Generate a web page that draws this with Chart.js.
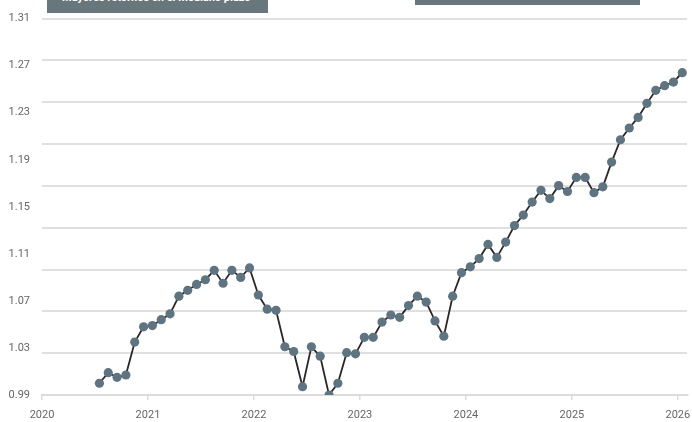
<!DOCTYPE html>
<html lang="es">
  <head>
    <meta charset="UTF-8" />
    <title>Retornos</title>
    <script src="https://cdn.jsdelivr.net/npm/chart.js@4.4.1/dist/chart.umd.min.js"></script>
    <style>
      body { margin: 0; background: #fff; }
      #wrap { position: relative; width: 692px; height: 422px; }
      .tag {
        position: absolute; top: 0; background: #68777c; overflow: hidden;
        color: #fff; font: bold 11px Roboto, sans-serif; white-space: nowrap;
      }
      #tag1 { left: 47px; width: 221px; height: 13px; }
      #tag1 span { position: absolute; left: 15px; top: -9px; }
      #tag2 { left: 415px; width: 225px; height: 5px; }
    </style>
  </head>
  <body>
    <div id="wrap">
      <canvas id="myChart"></canvas>
      <div class="tag" id="tag1"><span>Mayores retornos en el mediano plazo</span></div>
      <div class="tag" id="tag2"></div>
    </div>

    <script>
      // monthly values
      const months = [
        '2020-07','2020-08','2020-09','2020-10','2020-11','2020-12',
        '2021-01','2021-02','2021-03','2021-04','2021-05','2021-06',
        '2021-07','2021-08','2021-09','2021-10','2021-11','2021-12',
        '2022-01','2022-02','2022-03','2022-04','2022-05','2022-06',
        '2022-07','2022-08','2022-09','2022-10','2022-11','2022-12',
        '2023-01','2023-02','2023-03','2023-04','2023-05','2023-06',
        '2023-07','2023-08','2023-09','2023-10','2023-11','2023-12',
        '2024-01','2024-02','2024-03','2024-04','2024-05','2024-06',
        '2024-07','2024-08','2024-09','2024-10','2024-11','2024-12',
        '2025-01','2025-02','2025-03','2025-04','2025-05','2025-06',
        '2025-07','2025-08','2025-09','2025-10','2025-11','2025-12',
        '2026-01'
      ];
      const values = [
        1.000, 1.009, 1.005, 1.007, 1.035, 1.048,
        1.049, 1.054, 1.059, 1.074, 1.079, 1.084,
        1.088, 1.096, 1.085, 1.096, 1.090, 1.098,
        1.075, 1.063, 1.062, 1.031, 1.027, 0.997,
        1.031, 1.023, 0.990, 1.000, 1.026, 1.025,
        1.039, 1.039, 1.052, 1.058, 1.056, 1.066,
        1.074, 1.069, 1.053, 1.040, 1.074, 1.094,
        1.099, 1.106, 1.118, 1.107, 1.120, 1.134,
        1.143, 1.154, 1.164, 1.157, 1.168, 1.163,
        1.175, 1.175, 1.162, 1.167, 1.188, 1.207,
        1.217, 1.226, 1.238, 1.249, 1.253, 1.256,
        1.264
      ];
      const xTicks = [2020, 2021, 2022, 2023, 2024, 2025, 2026];
      const yTicks = [0.99, 1.03, 1.07, 1.11, 1.15, 1.19, 1.23, 1.27, 1.31];

      // month -> fractional year (mid month)
      function toYear(m) {
        const [y, mo] = m.split('-').map(Number);
        return y + (mo - 0.5) / 12;
      }

      const points = months.map((m, i) => ({ x: toYear(m), y: values[i] }));
      const labelFont = { family: 'Roboto', size: 11 };
      const yMin = 0.99, yMax = 1.31;

      const ctx = document.getElementById('myChart').getContext('2d');
      const myChart = new Chart(ctx, {
        type: 'line',
        data: {
          datasets: [
            {
              data: points,
              borderColor: '#2d2628',
              borderWidth: 1.8,
              pointRadius: 4.6,
              pointBackgroundColor: '#5e7480',
              pointBorderWidth: 0,
              tension: 0,
              fill: false,
              yAxisID: 'y'
            }
          ]
        },
        options: {
          responsive: true,
          maintainAspectRatio: false,
          animation: false,
          layout: { padding: { top: 16, right: 1, left: 0, bottom: 0 } },
          plugins: { legend: { display: false }, tooltip: { enabled: false } },
          scales: {
            x: {
              type: 'linear',
              position: 'bottom',
              min: 2020,
              max: 2026.09,
              afterBuildTicks: s => { s.ticks = xTicks.map(v => ({ value: v })); },
              afterFit: s => { s.height = 27; s.paddingLeft = 0; s.paddingRight = 0; },
              ticks: {
                callback: v => String(v),
                font: labelFont,
                color: '#666',
                padding: 9,
                maxRotation: 0,
                autoSkip: false
              },
              grid: { drawOnChartArea: false, tickLength: 5, color: '#dcdcdc', lineWidth: 1.5 },
              border: { color: '#dcdcdc', width: 2 }
            },
            y: {
              position: 'left',
              min: yMin,
              max: yMax,
              afterBuildTicks: s => { s.ticks = yTicks.map(v => ({ value: v })); },
              afterFit: s => { s.width = 42; },
              ticks: {
                callback: v => v.toFixed(2),
                font: labelFont,
                color: '#666',
                padding: 12
              },
              grid: { display: false, drawTicks: false },
              border: { display: false }
            },
            yGrid: {
              position: 'right',
              min: yMin,
              max: yMax,
              afterBuildTicks: s => {
                const t = [];
                for (let i = 0; i <= 9; i++) t.push({ value: yMin + (yMax - yMin) * i / 9 });
                s.ticks = t;
              },
              afterFit: s => { s.width = 0; },
              ticks: { display: false },
              grid: { color: '#e0e0e0', lineWidth: 2, drawTicks: false },
              border: { display: false }
            }
          }
        }
      });
    </script>
  </body>
</html>
